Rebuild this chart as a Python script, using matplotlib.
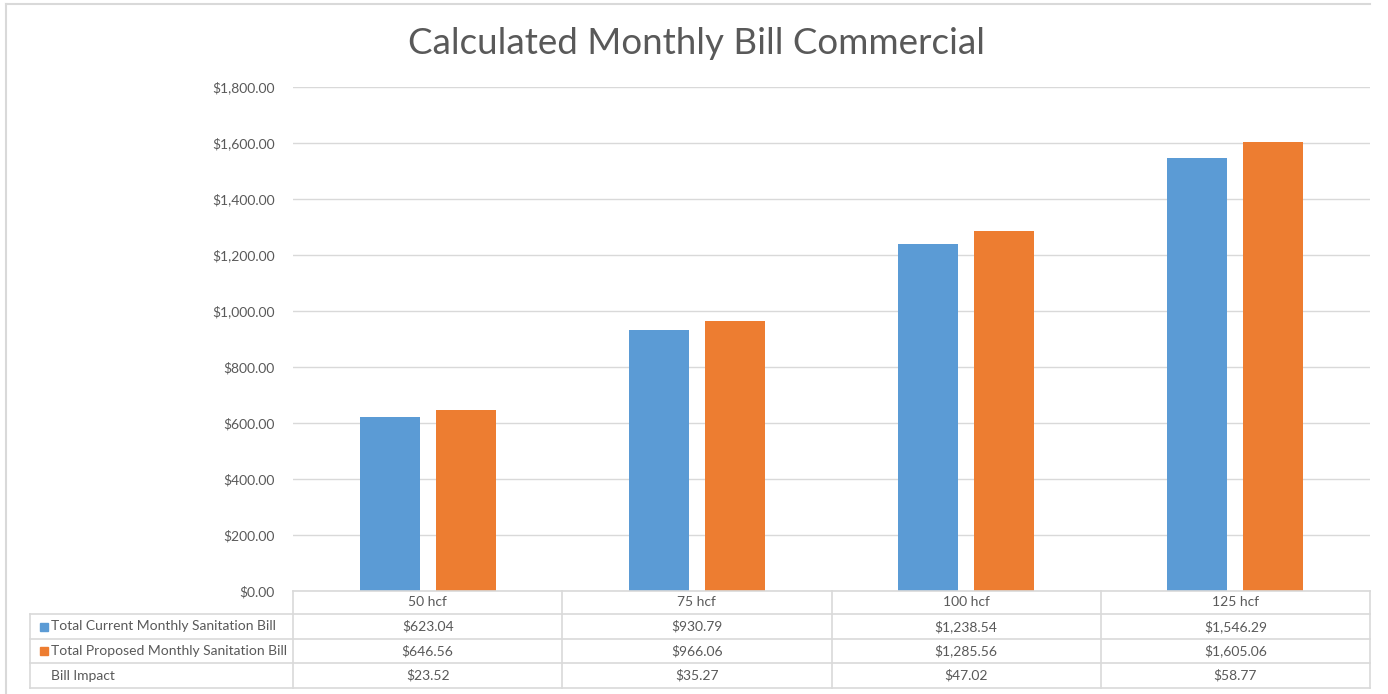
import matplotlib
matplotlib.use("Agg")
import matplotlib.pyplot as plt
from matplotlib.lines import Line2D
from matplotlib.patches import Rectangle
import numpy as np

categories = ["50 hcf", "75 hcf", "100 hcf", "125 hcf"]
current_bill = [623.04, 930.79, 1238.54, 1546.29]
proposed_bill = [646.56, 966.06, 1285.56, 1605.06]
bill_impact = [23.52, 35.27, 47.02, 58.77]
series_names = ["Total Current Monthly Sanitation Bill",
                "Total Proposed Monthly Sanitation Bill",
                "Bill Impact"]
yticks = [0, 200, 400, 600, 800, 1000, 1200, 1400, 1600, 1800]

BLUE = "#5B9BD5"
ORANGE = "#ED7D31"
TXT = "#595959"
GRID = "#D9D9D9"
FONT = "Lato"

W, H = 1388, 694
fig = plt.figure(figsize=(W / 100, H / 100), dpi=100)
plt.rcParams["font.family"] = [FONT, "DejaVu Sans"]

def fx(px):
    return px / W

def fy(py):
    return 1 - py / H

left, right, top, bottom = 293, 1370, 87, 591
ax = fig.add_axes([fx(left), fy(bottom), fx(right - left), fy(top) - fy(bottom)])

x = np.arange(len(categories))
bw = 0.223
off = 0.141
ax.bar(x - off, current_bill, bw, color=BLUE, zorder=3)
ax.bar(x + off, proposed_bill, bw, color=ORANGE, zorder=3)

ax.set_xlim(-0.5, len(categories) - 0.5)
ax.set_ylim(0, 1800)
ax.set_yticks(yticks)
ax.set_yticklabels([f"${v:,.2f}" for v in yticks], color=TXT, fontsize=10)
ax.tick_params(axis="y", length=0, pad=13)
ax.set_xticks([])
ax.grid(axis="y", color=GRID, linewidth=1, zorder=0)
for s in ax.spines.values():
    s.set_visible(False)

fig.text(0.502, fy(44), "Calculated Monthly Bill Commercial", ha="center", va="center",
         fontsize=26.5, color=TXT)

# outer chart border
fig.add_artist(Line2D([fx(6), fx(6)], [fy(4), 0], color=GRID, lw=1.5))
fig.add_artist(Line2D([fx(6), fx(1370)], [fy(4), fy(4)], color=GRID, lw=1.5))

# data table
row_y = [591, 614, 639, 663, 688]
col_x = [left + i * (right - left) / len(categories) for i in range(len(categories) + 1)]
label_x = 30
lc = "#D9D9D9"
for i, yy in enumerate(row_y):
    x0 = left if i == 0 else label_x
    fig.add_artist(Line2D([fx(x0), fx(right)], [fy(yy), fy(yy)], color=lc, lw=1.2))
for cx in col_x:
    fig.add_artist(Line2D([fx(cx), fx(cx)], [fy(row_y[0]), fy(row_y[-1])], color=lc, lw=1.2))
fig.add_artist(Line2D([fx(label_x), fx(label_x)], [fy(row_y[1]), fy(row_y[-1])], color=lc, lw=1.2))

rows = [categories,
        [f"${v:,.2f}" for v in current_bill],
        [f"${v:,.2f}" for v in proposed_bill],
        [f"${v:,.2f}" for v in bill_impact]]
for r, vals in enumerate(rows):
    yc = (row_y[r] + row_y[r + 1]) / 2
    for c, v in enumerate(vals):
        xc = (col_x[c] + col_x[c + 1]) / 2
        fig.text(fx(xc), fy(yc), v, ha="center", va="center", fontsize=10, color=TXT)

key_colors = [BLUE, ORANGE, None]
for r, name in enumerate(series_names):
    yc = (row_y[r + 1] + row_y[r + 2]) / 2
    kc = key_colors[r]
    if kc:
        fig.add_artist(Rectangle((fx(40), fy(yc + 4)), fx(8), fy(0) - fy(8), color=kc,
                                 transform=fig.transFigure))
    fig.text(fx(51), fy(yc), name, ha="left", va="center", fontsize=10, color=TXT)

fig.savefig("out.png", dpi=100, facecolor="white")
